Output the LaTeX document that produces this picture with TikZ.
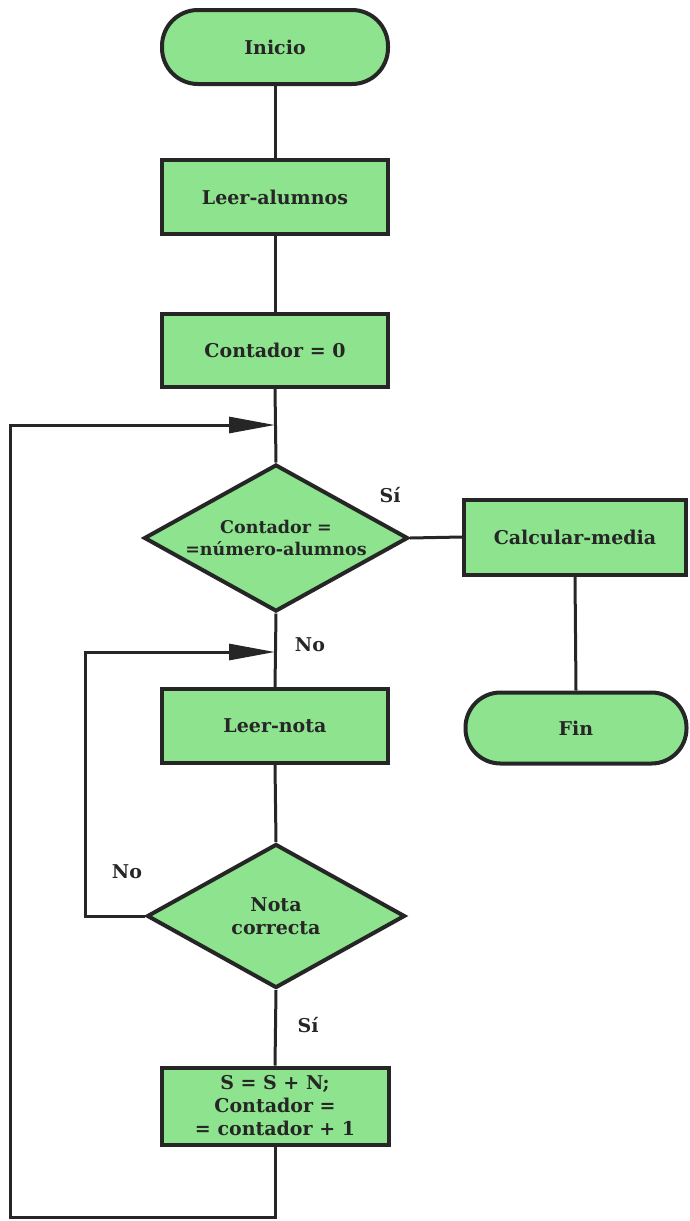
\documentclass[tikz,border=0pt]{standalone}
\usepackage{fontspec}
\setmainfont{DejaVu Serif}
\usetikzlibrary{shapes.geometric,arrows.meta}
\definecolor{boxgreen}{RGB}{142,228,142}
\definecolor{ink}{RGB}{38,38,38}
\begin{document}
\begin{tikzpicture}[x=1pt,y=-1pt,
  every node/.style={font=\bfseries\fontsize{19}{23}\selectfont, text=ink},
  proc/.style={draw=ink, line width=4pt, fill=boxgreen, minimum width=226pt, minimum height=74pt, inner sep=0pt, align=center},
  term/.style={proc, rounded corners=36pt},
  dec/.style={diamond, draw=ink, line width=4pt, fill=boxgreen, aspect=1.77, minimum width=264pt, minimum height=147pt, inner sep=0pt, align=center},
  conn/.style={line width=3pt, draw=ink},
  arr/.style={conn, -{Triangle[length=46pt,width=16pt]}},
  lbl/.style={}]
\path[use as bounding box] (0,0) rectangle (690,1221);

\node[term] (inicio) at (275,47) {Inicio};
\node[proc] (leer) at (275,197) {Leer-alumnos};
\node[proc, minimum height=73pt] (cont0) at (275,350) {Contador = 0};
\node[dec, font=\bfseries\fontsize{17.5}{22}\selectfont] (dec1) at (276,538) {Contador =\\=número-alumnos};
\node[proc, minimum width=222pt, minimum height=75pt] (calc) at (575,537) {Calcular-media};
\node[term, minimum width=221pt, minimum height=71pt, rounded corners=35pt] (fin) at (576,728) {Fin};
\node[proc] (leernota) at (275,726) {Leer-nota};
\node[dec, minimum width=258pt, minimum height=144pt] (dec2) at (276,916) {Nota\\correcta};
\node[proc, minimum width=227pt, minimum height=77pt] (sum) at (275,1106) {S = S + N;\\Contador =\\= contador + 1};

\coordinate (j1) at (275,425);
\coordinate (j2) at (275,652);
\coordinate (c1) at (85,916);
\coordinate (c2) at (275,1217);
\coordinate (c3) at (10,1217);
\coordinate (c4) at (10,425);

\draw[conn] (inicio.south) -- (leer.north);
\draw[conn] (leer.south) -- (cont0.north);
\draw[conn] (cont0.south) -- (dec1.north);
\draw[conn] (dec1.east) -- (calc.west);
\draw[conn] (calc.south) -- (fin.north);
\draw[conn] (dec1.south) -- (leernota.north);
\draw[conn] (leernota.south) -- (dec2.north);
\draw[conn] (dec2.south) -- (sum.north);
\draw[arr] (dec2.west) -- (c1) |- (j2);
\draw[arr] (sum.south) -- (c2) -- (c3) -- (c4) -- (j1);

\node[lbl] (si1) at (390,495) {Sí};
\node[lbl] (no1) at (310,645) {No};
\node[lbl] (no2) at (127,872) {No};
\node[lbl] (si2) at (308,1025) {Sí};
\end{tikzpicture}
\end{document}
